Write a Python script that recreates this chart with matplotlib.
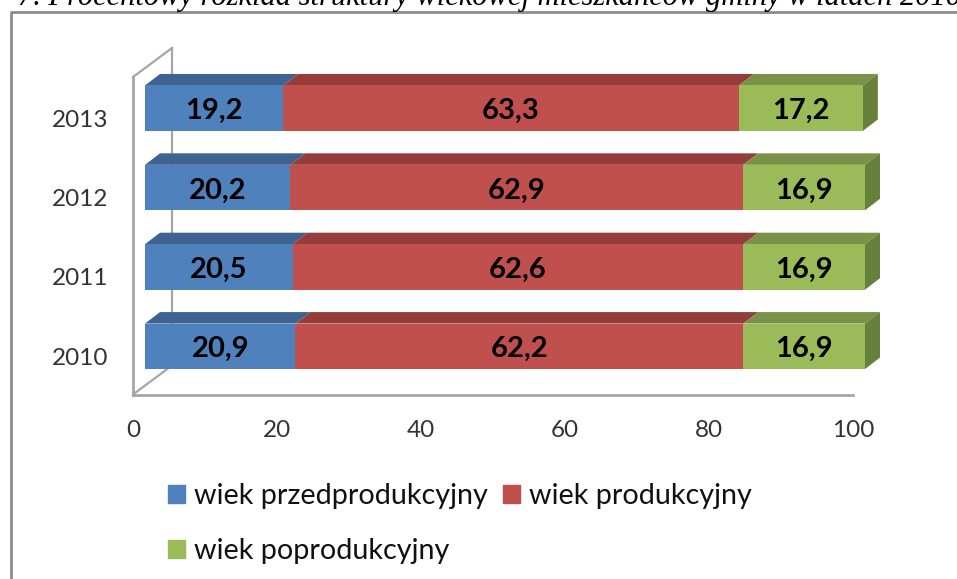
import matplotlib
matplotlib.use("Agg")
import matplotlib.pyplot as plt
from matplotlib.patches import Polygon, Patch
from matplotlib.lines import Line2D
from matplotlib.transforms import ScaledTranslation

plt.rcParams['font.family'] = ['Lato', 'DejaVu Sans']

lata = ['2010', '2011', '2012', '2013']
przed = [20.9, 20.5, 20.2, 19.2]
prod = [62.2, 62.6, 62.9, 63.3]
po = [16.9, 16.9, 16.9, 17.2]
nazwy = ['wiek przedprodukcyjny', 'wiek produkcyjny', 'wiek poprodukcyjny']
kolory = ['#4F81BD', '#C0504D', '#9BBB59']
gora = ['#3E6391', '#943D3B', '#7A9247']
bok = '#67803B'
szary = '#a6a6a6'

W, H = 957, 579
fig = plt.figure(figsize=(W / 100, H / 100), dpi=100)
ax = fig.add_axes([133 / W, 1 - 394.5 / H, 720 / W, 317.5 / H])
ax.set_xlim(0, 100)
ax.set_ylim(-0.5, 3.5)

# przeliczenie pikseli na jednostki osi (efekt 3D)
px = 100 / 720
py = 4 / 317.5
sx, sy = 12 * px, 8.5 * py    # przesuniecie slupkow od przedniej sciany
dx, dy = 15 * px, 11.5 * py   # glebokosc slupka
wx, wy = 39 * px, 29 * py     # glebokosc sciany
h = 0.573

# sciany wykresu
for xs, ys in [([0, wx], [-0.5, -0.5 + wy]),
               ([0, wx], [3.5, 3.5 + wy]),
               ([wx, wx], [-0.5 + wy, 3.5 + wy])]:
    ax.add_line(Line2D(xs, ys, color=szary, lw=1.6, clip_on=False, zorder=1))

for i, rok in enumerate(lata):
    lewo = 0
    y0 = i + sy - h / 2
    y1 = i + sy + h / 2
    serie = [przed[i], prod[i], po[i]]
    for s, v in enumerate(serie):
        ax.barh(i + sy, v, height=h, left=lewo + sx, color=kolory[s], zorder=3, clip_on=False)
        x0 = lewo + sx
        x1 = x0 + v
        ax.add_patch(Polygon([(x0, y1), (x1, y1), (x1 + dx, y1 + dy), (x0 + dx, y1 + dy)],
                             closed=True, fc=gora[s], ec='none', clip_on=False, zorder=2))
        ax.text((x0 + x1) / 2, i + sy - 3 * py, str(v).replace('.', ','), ha='center', va='center',
                fontsize=21, fontweight='bold', color='black', zorder=4)
        lewo += v
    ax.add_patch(Polygon([(lewo + sx, y0), (lewo + sx + dx, y0 + dy),
                          (lewo + sx + dx, y1 + dy), (lewo + sx, y1)],
                         closed=True, fc=bok, ec='none', clip_on=False, zorder=2))

for k in ['top', 'right']:
    ax.spines[k].set_visible(False)
for k in ['left', 'bottom']:
    ax.spines[k].set_color(szary)
    ax.spines[k].set_linewidth(2)
    ax.spines[k].set_zorder(1)
ax.patch.set_visible(False)
ax.set_yticks(range(4))
ax.set_yticklabels(lata)
ax.set_xticks([0, 20, 40, 60, 80, 100])
ax.tick_params(length=0, labelsize=17.5, labelcolor='#333333')
ax.tick_params(axis='x', pad=18.5)
ax.tick_params(axis='y', pad=18)
for t in ax.get_yticklabels():
    t.set_transform(t.get_transform() + ScaledTranslation(0, -1.5 / 100, fig.dpi_scale_trans))

uchwyty = [Patch(color=kolory[0]), Patch(color=kolory[2]), Patch(color=kolory[1])]
etykiety = [nazwy[0], nazwy[2], nazwy[1]]
fig.legend(uchwyty, etykiety, ncol=2, frameon=False, fontsize=20.7,
           loc='upper left', bbox_to_anchor=(168 / W, 1 - 483 / H), borderaxespad=0,
           borderpad=0, handlelength=0.59, handleheight=0.59, handletextpad=0.31,
           columnspacing=0.52, labelspacing=1.02, labelcolor='#111111')

# ramka wykresu
fig.add_artist(Line2D([10.5 / W, 10.5 / W, 1], [0, 1 - 11.5 / H, 1 - 11.5 / H],
                      color='#8c8c8c', lw=2))
# podpis ucieta u gory
fig.text(18 / W, 1 - 4.5 / H, '7. Procentowy rozkład struktury wiekowej mieszkańców gminy w latach 2010',
         family='Liberation Serif', style='italic', fontsize=22, color='black', ha='left', va='baseline')

fig.savefig('out.png', dpi=100)
